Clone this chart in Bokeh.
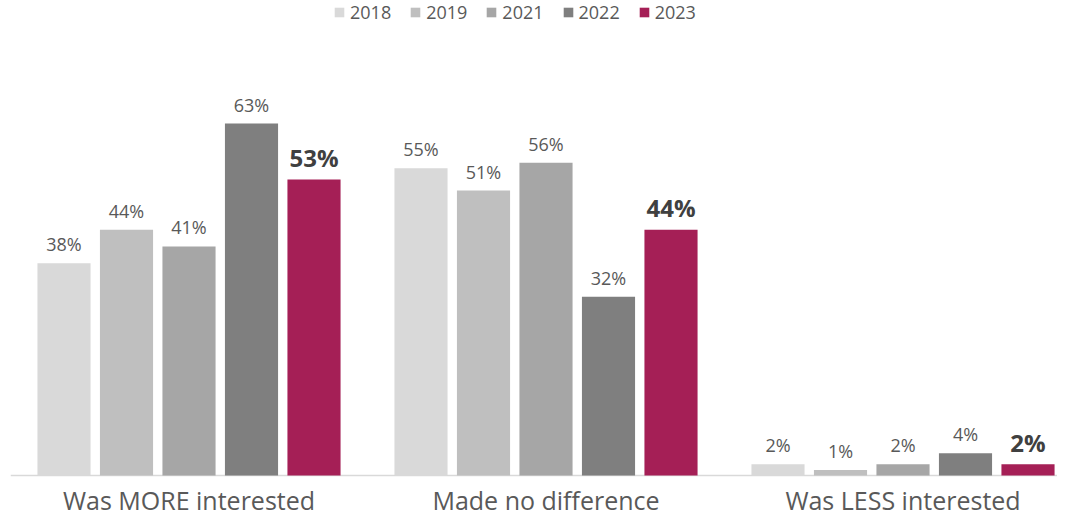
from bokeh.plotting import figure
from bokeh.models import ColumnDataSource, Range1d, Legend, LegendItem, Span
from bokeh.core.properties import value
from bokeh.embed import file_html
from bokeh.resources import INLINE

categories = ["Was MORE interested", "Made no difference", "Was LESS interested"]
years = ["2018", "2019", "2021", "2022", "2023"]
v2018 = [38, 55, 2]
v2019 = [44, 51, 1]
v2021 = [41, 56, 2]
v2022 = [63, 32, 4]
v2023 = [53, 44, 2]
series = [v2018, v2019, v2021, v2022, v2023]
colors = ["#d9d9d9", "#bfbfbf", "#a6a6a6", "#7f7f7f", "#a51f56"]

GAP = 0.712
STEP = len(years) + GAP
FONT = "Open Sans"
W, H = 1057, 515
PX_PER_UNIT = 5.587      # pixels per percentage point
BASE_PX = 475            # baseline position from top, px

p = figure(width=W, height=H, output_backend="svg", toolbar_location=None,
           x_range=Range1d(-0.856, 15.896),
           y_range=Range1d(-(H - BASE_PX) / PX_PER_UNIT, BASE_PX / PX_PER_UNIT),
           min_border_left=10, min_border_right=0, min_border_top=0, min_border_bottom=0)
p.outline_line_color = None
p.xgrid.visible = False
p.ygrid.visible = False
p.xaxis.visible = False
p.yaxis.visible = False
p.background_fill_color = "white"
p.border_fill_color = "white"

p.add_layout(Span(location=0, dimension="width", line_color="#d9d9d9", line_width=1.5, level="underlay"))

items = []
for yi, (yr, vals, col) in enumerate(zip(years, series, colors)):
    xs = [ci * STEP + yi for ci in range(len(categories))]
    src = ColumnDataSource(dict(x=xs, top=vals, lab=[f"{v}%" for v in vals]))
    r = p.vbar(x="x", top="top", width=0.85, source=src, fill_color=col, line_color=None)
    items.append(LegendItem(label=yr, renderers=[r]))
    last = yr == years[-1]
    p.text(x="x", y="top", text="lab", source=src, text_align="center",
           text_baseline="alphabetic", y_offset=-22 if last else -19,
           text_font=value(FONT), text_font_size="24px" if last else "18px",
           text_font_style="bold" if last else "normal",
           text_color="#404040" if last else "#595959")

cat_src = ColumnDataSource(dict(x=[ci * STEP + (len(years) - 1) / 2 for ci in range(len(categories))],
                                y=[0] * len(categories), lab=categories))
p.text(x="x", y="y", text="lab", source=cat_src, text_align="center", text_baseline="alphabetic",
       y_offset=24, text_font=value(FONT), text_font_size="25px", text_color="#595959")

legend = Legend(items=items, orientation="horizontal", location=(323, 491),
                glyph_width=12, glyph_height=12, label_height=12,
                label_text_font=FONT, label_text_font_size="18px", label_text_color="#595959",
                label_standoff=5, spacing=18, padding=0, margin=0,
                border_line_color=None, background_fill_alpha=0)
p.add_layout(legend, "center")

open("out.html", "w").write(file_html(p, INLINE))
